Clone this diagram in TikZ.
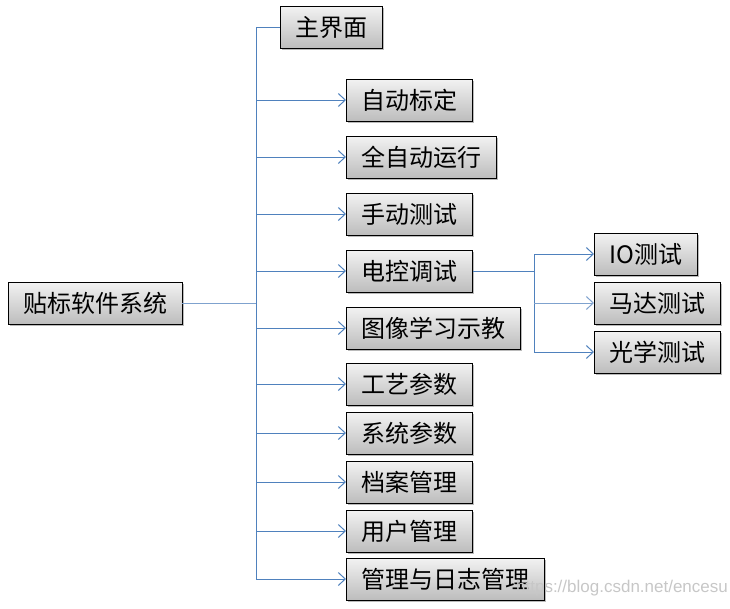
\documentclass[tikz,border=0pt]{standalone}
\usepackage{fontspec}
\newfontfamily\cjk{Noto Sans CJK SC}
\newfontfamily\wmfont{Liberation Sans}
\usetikzlibrary{arrows.meta,shadows}
\definecolor{linkblue}{HTML}{4F81BD}
\definecolor{linklight}{HTML}{7FA2CE}
\tikzset{
    menubox/.style={draw=black, line width=0.8pt, top color=white!95!black, bottom color=white!74!black,
        minimum height=42pt, inner xsep=15pt, inner ysep=0pt, font=\cjk\fontsize{24}{27}\selectfont,
        drop shadow={shadow xshift=2pt, shadow yshift=-2pt, opacity=0.45, fill=black!60}},
    link/.style={draw=linkblue, line width=1pt},
    linkarrow/.style={link, -{Straight Barb[length=7pt,width=13pt,line width=1pt]}}
}
\begin{document}
\begin{tikzpicture}[x=1pt, y=-1pt]
    \useasboundingbox (0,0) rectangle (730,608);
    % root and first level
    \node[menubox] (root) at (95,303) {贴标软件系统};
    \node[menubox] (zjm) at (331,27) {主界面};
    \foreach \y/\name/\txt in {100/zdbd/自动标定, 157/qzd/全自动运行, 214/sdcs/手动测试,
        271/dkts/电控调试, 328/txjx/图像学习示教, 384/gycs/工艺参数, 433/xtcs/系统参数,
        482/dagl/档案管理, 531/yhgl/用户管理, 579/glrz/管理与日志管理}
        \node[menubox, anchor=west] (\name) at (346,\y) {\txt};
    % second level
    \node[menubox, anchor=west] (io) at (594,254) {IO测试};
    \node[menubox, anchor=west] (mdcs) at (594,303) {马达测试};
    \node[menubox, anchor=west] (gxcs) at (594,352) {光学测试};
    % connectors
    \coordinate (bus) at (256,303);
    \draw[link, draw=linklight] (root.east) -- (bus);
    \draw[link] (bus |- zjm.west) -- (bus |- glrz.west);
    \draw[link] (bus |- zjm.west) -- (zjm.west);
    \foreach \name in {zdbd, qzd, sdcs, dkts, txjx, gycs, xtcs, dagl, yhgl, glrz}
        \draw[linkarrow] (bus |- \name.west) -- (\name.west);
    \coordinate (sub) at (534,271);
    \draw[link] (dkts.east) -- (sub);
    \draw[link] (sub |- io.west) -- (sub |- gxcs.west);
    \draw[linkarrow] (sub |- io.west) -- (io.west);
    \draw[linkarrow, draw=linklight] (sub |- mdcs.west) -- (mdcs.west);
    \draw[linkarrow] (sub |- gxcs.west) -- (gxcs.west);
    % watermark
    \node[font=\wmfont\fontsize{17}{20}\selectfont, text=black!22] (wm) at (622,588) {https://blog.csdn.net/encesu};
\end{tikzpicture}
\end{document}
